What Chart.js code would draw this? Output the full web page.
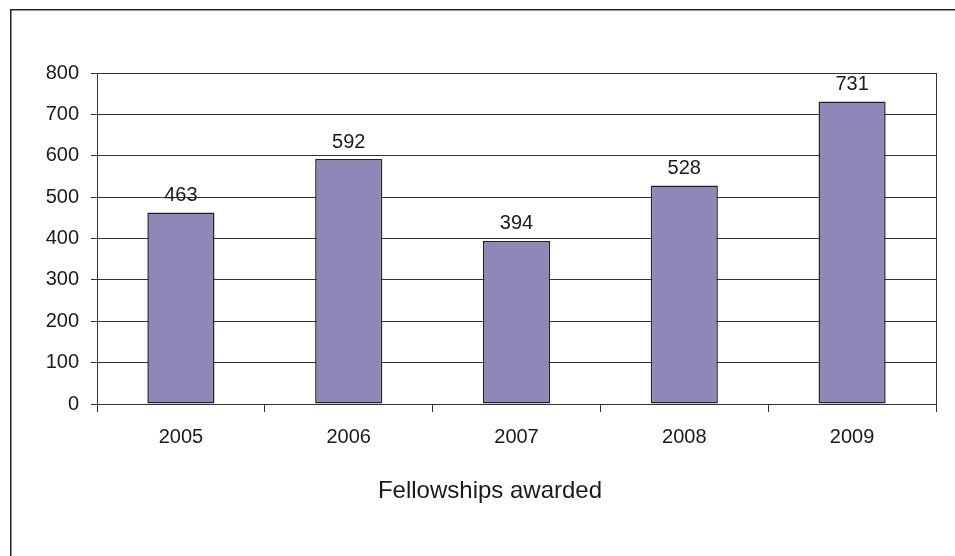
<!DOCTYPE html>
<html>
<head>
  <title>Fellowships awarded</title>
  <script src="https://cdn.jsdelivr.net/npm/chart.js"></script>
  <style>
    body { margin: 0; background: #fff; }
    canvas { display: block; }
  </style>
</head>
<body>
  <canvas id="chart" width="955" height="556"></canvas>

  <script>
    const years = ['2005', '2006', '2007', '2008', '2009'];
    const fellowships = [463, 592, 394, 528, 731];
    const axisTitle = 'Fellowships awarded';

    const fontFamily = '"Liberation Sans", Arial, sans-serif';
    const ink = '#1a1a1a';

    // frame around the whole figure, right edge of the plot and the bar value labels
    const decorations = {
      id: 'decorations',
      beforeDraw(chart) {
        const ctx = chart.ctx;
        ctx.save();
        ctx.strokeStyle = '#222';
        ctx.lineWidth = 1.5;
        ctx.strokeRect(10.75, 9.75, 1000, 1000);
        ctx.restore();
      },
      afterDraw(chart) {
        const ctx = chart.ctx;
        const area = chart.chartArea;
        ctx.save();
        ctx.strokeStyle = '#333';
        ctx.lineWidth = 1;
        ctx.beginPath();
        ctx.moveTo(Math.round(area.right) + 0.5, area.top);
        ctx.lineTo(Math.round(area.right) + 0.5, area.bottom + 8);
        ctx.stroke();

        ctx.fillStyle = ink;
        ctx.textAlign = 'center';
        ctx.textBaseline = 'middle';
        ctx.font = '20px ' + fontFamily;
        chart.getDatasetMeta(0).data.forEach((bar, i) => {
          ctx.fillText(String(fellowships[i]), bar.x, bar.y - 17);
        });

        ctx.font = '24px ' + fontFamily;
        ctx.fillText(axisTitle, 490, 491);
        ctx.restore();
      }
    };

    const ctx = document.getElementById('chart').getContext('2d');
    new Chart(ctx, {
      type: 'bar',
      data: {
        labels: years,
        datasets: [{
          data: fellowships,
          backgroundColor: '#8e87b8',
          borderColor: '#222',
          borderWidth: 1.5,
          borderSkipped: false,
          barPercentage: 0.4,
          categoryPercentage: 1.0,
        }],
      },
      options: {
        responsive: false,
        animation: false,
        layout: { padding: { left: 0, right: 19, top: 73, bottom: 0 } },
        plugins: {
          legend: { display: false },
          tooltip: { enabled: false },
        },
        scales: {
          x: {
            afterFit(scale) { scale.height = 152; },
            offset: true,
            grid: {
              offset: true,
              drawOnChartArea: false,
              drawTicks: true,
              tickLength: 8,
              color: '#333',
            },
            border: { display: true, color: '#333', width: 1 },
            ticks: {
              color: ink,
              padding: 13,
              font: { family: fontFamily, size: 20 },
            },
          },
          y: {
            afterFit(scale) { scale.width = 97; },
            min: 0,
            max: 800,
            grid: {
              color: '#333',
              lineWidth: 1,
              drawTicks: true,
              tickLength: 6,
            },
            border: { display: true, color: '#333', width: 1 },
            ticks: {
              stepSize: 100,
              color: ink,
              padding: 12,
              font: { family: fontFamily, size: 20 },
            },
          },
        },
      },
      plugins: [decorations],
    });
  </script>
</body>
</html>
